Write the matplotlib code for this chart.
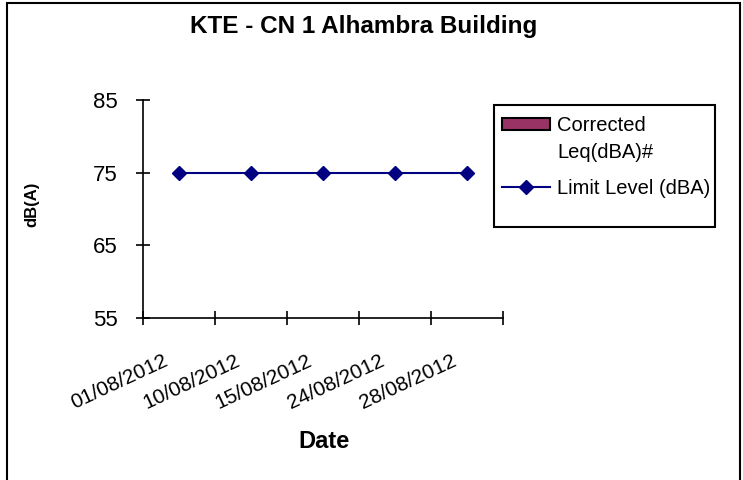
import numpy as np
import matplotlib
matplotlib.use("Agg")
import matplotlib.pyplot as plt
from matplotlib.lines import Line2D
from matplotlib.patches import Patch, Rectangle
from matplotlib.legend_handler import HandlerPatch
from matplotlib.transforms import ScaledTranslation

# data
dates = ["01/08/2012", "10/08/2012", "15/08/2012", "24/08/2012", "28/08/2012"]
limit_level = [75, 75, 75, 75, 75]
corrected_leq = []  # no bars shown in the chart
y_ticks = [55, 65, 75, 85]

plt.rcParams['font.family'] = ['Liberation Sans', 'DejaVu Sans']

fig = plt.figure(figsize=(7.43, 4.8), dpi=100)
ax = fig.add_axes([143/743, 1 - 318/480, 360/743, 218/480])

x = np.arange(len(dates))
ax.plot(x, limit_level, color="#000080", lw=1.5, marker="D", markersize=7,
        label="Limit Level (dBA)")

ax.set_xlim(-0.5, len(dates) - 0.5)
ax.set_ylim(55, 85)
ax.set_yticks(y_ticks)
ax.tick_params(axis='y', direction='inout', length=10, width=1.2, pad=13, labelsize=16)

# category labels at centres, tick marks on the category boundaries
ax.set_xticks(x)
ax.set_xticklabels(dates, rotation=25, ha='right', va='center', rotation_mode='anchor', fontsize=15)
ax.tick_params(axis='x', which='major', length=0, pad=30)
ax.set_xticks(np.arange(len(dates) + 1) - 0.5, minor=True)
ax.tick_params(axis='x', which='minor', direction='inout', length=10, width=1.2)
off = ScaledTranslation(-12/100, 0, fig.dpi_scale_trans)
for lbl in ax.get_xticklabels():
    lbl.set_transform(lbl.get_transform() + off)

for s in ['top', 'right']:
    ax.spines[s].set_visible(False)
ax.spines['left'].set_linewidth(1.2)
ax.spines['bottom'].set_linewidth(1.2)

fig.text(364/743, 1 - 26/480, "KTE - CN 1 Alhambra Building", ha='center', va='center',
         fontsize=17.5, fontweight='bold')
fig.text(324/743, 1 - 442/480, "Date", ha='center', va='center', fontsize=17, fontweight='bold')
fig.text(32/743, 1 - 204/480, "dB(A)", ha='center', va='center', rotation=90,
         fontsize=12, fontweight='bold')


# legend: the bar swatch sits on the first line of its two-line label, like Excel
def top_patch(legend, orig_handle, xdescent, ydescent, width, height, fontsize):
    return Rectangle((-xdescent, -ydescent + 11), width, 8)


handles = [Patch(facecolor="#993366", edgecolor="black", lw=1.5),
           Line2D([], [], color="#000080", lw=1.5, marker="D", markersize=7)]
labels = ["Corrected\nLeq(dBA)#", "Limit Level (dBA)"]
leg = fig.legend(handles, labels, loc='upper left', bbox_to_anchor=(502/743, 1 - 116/480),
                 fontsize=14.5, frameon=False, handlelength=2.4,
                 handleheight=0.5, handletextpad=0.35, borderpad=0, labelspacing=0.85,
                 borderaxespad=0, handler_map={Patch: HandlerPatch(patch_func=top_patch)})
for t in leg.get_texts():
    t.set_linespacing(1.5)
fig.patches.append(Rectangle((494/743, 1 - 227/480), 221/743, 122/480, transform=fig.transFigure,
                             fill=False, edgecolor="black", lw=1.5))

# outer chart border (bottom edge falls outside the image)
fig.patches.append(Rectangle((7/743, -0.05), 733/743, 1.05 - 3/480, transform=fig.transFigure,
                             fill=False, edgecolor="black", lw=1.5))

fig.savefig("out.png", dpi=100)
